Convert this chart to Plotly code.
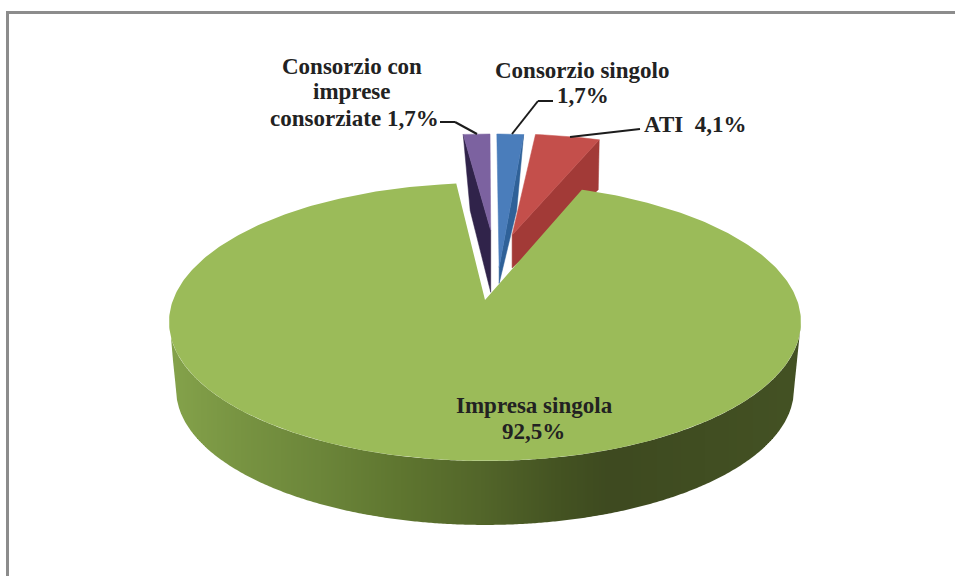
import numpy as np
import plotly.graph_objects as go

# Pie shares, clockwise from twelve o'clock
categories = ["Consorzio singolo", "ATI", "Impresa singola", "Consorzio con imprese consorziate"]
shares = [1.7, 4.1, 92.5, 1.7]
top_colors = ["#4a7dbb", "#c44f4b", "#9bbb59", "#7c62a0"]
wall_colors = ["#2f6198", "#a23a37", None, "#30234a"]

WIDTH, HEIGHT = 955, 576
# Pixel size of one plane unit and pixel position of the pie centre
UX, UY = 312.0, 135.5
CX, CY = 485.0, 300.0
# Camera foreshortening, and scale / drop of the lower rim
K = 0.1583
RIM_SCALE = 0.978
RIM_DROP = 67.5 / UY

# Detached slices: apex on the plane, radial stretch, wall corner offsets in pixels
detached = {
    "Consorzio singolo": dict(apex=(0.047, 0.25), stretch=(1.0, 1.27), side=1,
                              corner=(-7, 76), foot=16),
    "ATI": dict(apex=(0.094, 0.52), stretch=(1.0, 1.0), side=1,
                corner=(-1, 50), foot=33),
    "Consorzio con imprese consorziate": dict(apex=(0.02, 0.56), stretch=(1.0, 0.96), side=-1,
                                              corner=(7, 76), foot=62),
}

# Rim shading, light on the left and dark past the middle (pixel x, colour)
wall_stops_x = [168, 240, 320, 400, 480, 560, 610, 800]
wall_stops_rgb = [(133, 163, 75), (120, 148, 66), (108, 134, 58), (95, 118, 48),
                  (83, 102, 42), (68, 83, 34), (62, 74, 32), (68, 82, 36)]

# Text lines: text, pixel centre x, pixel centre y
pct = [f"{v:.1f}".replace(".", ",") + "%" for v in shares]
text_lines = [
    ("Consorzio con", 352, 66),
    ("imprese", 352, 91),
    (f"consorziate {pct[3]}", 354, 118),
    ("Consorzio singolo", 582, 70),
    (pct[0], 583, 95),
    (f"ATI  {pct[1]}", 695, 125),
    ("Impresa singola", 534, 405),
    (pct[2], 533, 431),
]
# Leader lines in pixels
leaders = [
    [(440, 122), (455, 122), (477, 134)],
    [(553, 101), (538, 101), (512, 134)],
    [(640, 129), (570, 137)],
]


def project(x, y):
    """Perspective view of a point on the pie's top plane."""
    d = 1 + K * np.asarray(y)
    return np.asarray(x) / d, np.asarray(y) / d


def px_to_axis_offset(dx, dy):
    return dx / UX, -dy / UY


def polygon(fig, x, y, color, line=0.0):
    fig.add_trace(go.Scatter(
        x=list(x), y=list(y), mode="lines", fill="toself", fillcolor=color,
        line=dict(color=color, width=line), hoverinfo="skip", showlegend=False,
    ))


fig = go.Figure()

# Slice angles, in radians clockwise from the top
edges = np.radians(np.cumsum([0] + shares) * 3.6)
ranges = {c: (edges[i], edges[i + 1]) for i, c in enumerate(categories)}

# Outer wall of the large slice, cut into vertical bands two pixels wide
theta = np.linspace(np.arccos(-K), 2 * np.pi - np.arccos(-K), 600)
xt, yt = project(np.sin(theta), np.cos(theta))
xb, yb = xt * RIM_SCALE, yt * RIM_SCALE - RIM_DROP
order_t = np.argsort(xt)

# Lower outline: the side silhouettes join the upper and lower rim extremes
left_t, right_t = np.argmin(xt), np.argmax(xt)
left_b, right_b = np.argmin(xb), np.argmax(xb)
order_b = np.argsort(xb)
outline_x = np.concatenate(([xt[left_t]], xb[order_b], [xt[right_t]]))
outline_y = np.concatenate(([yt[left_t]], yb[order_b], [yt[right_t]]))

px_left = int(np.floor(CX + UX * xt.min()))
px_right = int(np.ceil(CX + UX * xt.max()))
for p in range(px_left, px_right, 2):
    bx = (np.array([p, p + 2]) - CX) / UX
    top = np.interp(bx, xt[order_t], yt[order_t])
    bottom = np.interp(bx, outline_x, outline_y)
    rgb = [np.interp(p + 1, wall_stops_x, [c[j] for c in wall_stops_rgb]) for j in range(3)]
    polygon(fig, [bx[0], bx[1], bx[1], bx[0], bx[0]],
            [top[0], top[1], bottom[1], bottom[0], top[0]], "rgb(%d,%d,%d)" % tuple(rgb))

# Detached slices, back to front
for name in [categories[3], categories[0], categories[1]]:
    i = categories.index(name)
    cfg = detached[name]
    a0, a1 = ranges[name]
    ang = np.linspace(a0, a1, 12)
    ax, ay = cfg["apex"]
    sx, sy = cfg["stretch"]
    wx, wy = project(ax + sx * np.sin(ang), ay + sy * np.cos(ang))
    apx, apy = project(ax, ay)

    # Side wall runs from the outer corner down to the foot of the apex
    ox, oy = (wx[-1], wy[-1]) if cfg["side"] > 0 else (wx[0], wy[0])
    cdx, cdy = px_to_axis_offset(*cfg["corner"])
    _, fdy = px_to_axis_offset(0, cfg["foot"])
    polygon(fig, [ox, ox + cdx, apx, apx, ox], [oy, oy + cdy, apy + fdy, apy, oy], wall_colors[i], 0.5)

    polygon(fig, [apx, *wx, apx], [apy, *wy, apy], top_colors[i], 0.5)

# Top face of the large slice
a0, a1 = ranges["Impresa singola"]
ang = np.linspace(a0, a1, 400)
gx, gy = project(np.sin(ang), np.cos(ang))
polygon(fig, [0, *gx, 0], [0, *gy, 0], top_colors[2], 0.0)

annotations = [
    dict(text=f"<b>{t}</b>", x=x / WIDTH, y=1 - y / HEIGHT, xref="paper", yref="paper",
         xanchor="center", yanchor="middle", showarrow=False,
         font=dict(family="Liberation Serif", size=23, color="#222222"))
    for t, x, y in text_lines
]

shapes = [
    dict(type="line", xref="paper", yref="paper",
         x0=a[0] / WIDTH, y0=1 - a[1] / HEIGHT, x1=b[0] / WIDTH, y1=1 - b[1] / HEIGHT,
         line=dict(color="#1c1c1c", width=2))
    for path in leaders for a, b in zip(path[:-1], path[1:])
]
# Frame: left and top edges only reach the window
frame_color = "#8c8c8c"
shapes += [
    dict(type="line", xref="paper", yref="paper", x0=7.5 / WIDTH, x1=7.5 / WIDTH,
         y0=0, y1=1 - 11 / HEIGHT, line=dict(color=frame_color, width=3)),
    dict(type="line", xref="paper", yref="paper", x0=6 / WIDTH, x1=1,
         y0=1 - 12.5 / HEIGHT, y1=1 - 12.5 / HEIGHT, line=dict(color=frame_color, width=3)),
]

fig.update_layout(
    width=WIDTH, height=HEIGHT,
    margin=dict(l=0, r=0, t=0, b=0),
    paper_bgcolor="white", plot_bgcolor="white",
    showlegend=False,
    annotations=annotations, shapes=shapes,
    xaxis=dict(range=[-CX / UX, (WIDTH - CX) / UX], visible=False, fixedrange=True),
    yaxis=dict(range=[(CY - HEIGHT) / UY, CY / UY], visible=False, fixedrange=True),
)

fig.write_html("out.html", config=dict(displayModeBar=False))
